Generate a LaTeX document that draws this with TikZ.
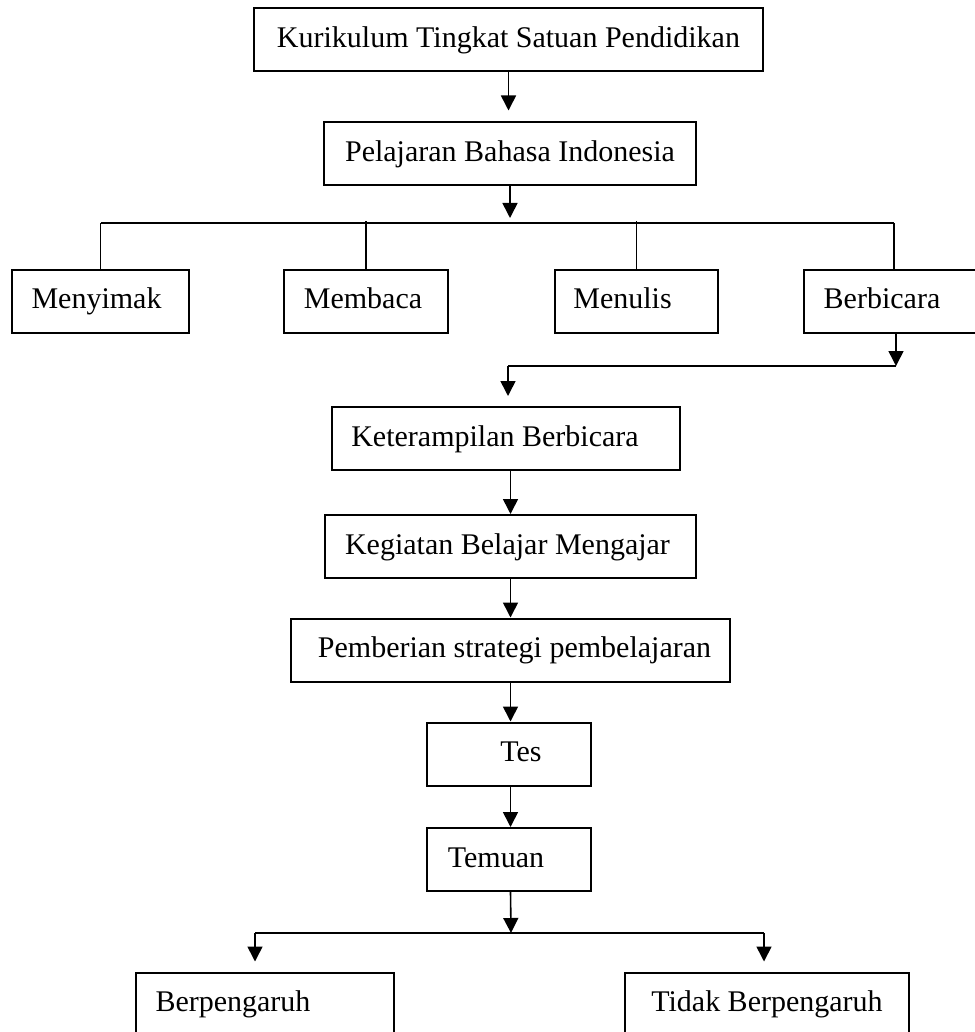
\documentclass[tikz,border=0pt]{standalone}
\usepackage{fontspec}
\setmainfont{Liberation Serif}
\usetikzlibrary{arrows.meta}
\begin{document}
\begin{tikzpicture}[x=0.5pt, y=-0.5pt, line width=0.8pt]
  \tikzstyle{box}=[draw, line width=1pt, inner sep=0pt, minimum height=31.5pt,
                   text height=10.5pt, text depth=2.6pt,
                   font=\fontsize{15pt}{18pt}\selectfont]
  \tikzstyle{arr}=[-{Triangle[length=7.5pt, width=7.5pt]}]
  \tikzstyle{bus}=[line width=1pt]

  \useasboundingbox (0,0) rectangle (974,1032);

  \node[box, minimum width=254.5pt] (ktsp) at (508.5, 39.5) {Kurikulum Tingkat Satuan Pendidikan};
  \node[box, minimum width=186pt]   (pbi)  at (510, 154)    {Pelajaran Bahasa Indonesia};

  \node[box, minimum width=88.5pt] (menyimak)  at (100.5, 301) {Menyimak\hspace*{4pt}};
  \node[box, minimum width=82pt]   (membaca)   at (366, 301)   {Membaca\hspace*{3pt}};
  \node[box, minimum width=81.5pt] (menulis)   at (636.5, 301) {Menulis\hspace*{14pt}};
  \node[box, minimum width=90pt]   (berbicara) at (894, 301)   {Berbicara\hspace*{12pt}};

  \node[box, minimum width=174pt]   (kb)     at (506, 438.5)   {Keterampilan Berbicara\hspace*{11pt}};
  \node[box, minimum width=185.5pt] (kbm)    at (510.5, 546.5) {Kegiatan Belajar Mengajar\hspace*{3pt}};
  \node[box, minimum width=219.5pt] (psp)    at (510.5, 650)   {\hspace*{4pt}Pemberian strategi pembelajaran};
  \node[box, minimum width=82pt]    (tes)    at (509, 754)     {\hspace*{12pt}Tes};
  \node[box, minimum width=82pt]    (temuan) at (509, 859.5)   {Temuan\hspace*{13pt}};

  \node[box, minimum width=129pt] (berp)  at (265, 1004) {Berpengaruh\hspace*{32pt}};
  \node[box, minimum width=142pt] (tidak) at (767, 1004) {Tidak Berpengaruh};

  \coordinate (bus1)  at (510, 223);
  \coordinate (bus2e) at (896, 366);
  \coordinate (bus2w) at (508, 366);
  \coordinate (bus3)  at (511, 933);
  \coordinate (bus3w) at (255, 933);
  \coordinate (bus3e) at (764, 933);

  \draw[arr, shorten >=5.5pt] (ktsp.south) -- (ktsp.south |- pbi.north);
  \draw[arr, shorten >=2.5pt] (pbi.south) -- (bus1);

  \draw[bus] (menyimak.north |- bus1) -- (berbicara.north |- bus1);
  \draw (menyimak.north)  -- (menyimak.north |- bus1);
  \draw (membaca.north)   -- ([yshift=1pt]membaca.north |- bus1);
  \draw (menulis.north)   -- ([yshift=1pt]menulis.north |- bus1);
  \draw (berbicara.north) -- (berbicara.north |- bus1);

  \draw[arr] (berbicara.south -| bus2e) -- (bus2e);
  \draw[bus] (bus2e) -- (bus2w);
  \draw[arr, shorten >=5pt] (bus2w) -- (bus2w |- kb.north);

  \draw[arr] (kbm.north |- kb.south) -- (kbm.north);
  \draw[arr] (kbm.south) -- (psp.north);
  \draw[arr] (psp.south) -- (psp.south |- tes.north);
  \draw[arr] (psp.south |- tes.south) -- (psp.south |- temuan.north);
  \draw[arr] (psp.south |- temuan.south) -- (bus3);

  \draw[bus] (bus3w) -- (bus3e);
  \draw[arr, shorten >=5pt] (bus3w) -- (bus3w |- berp.north);
  \draw[arr, shorten >=5pt] (bus3e) -- (bus3e |- tidak.north);

\end{tikzpicture}
\end{document}
